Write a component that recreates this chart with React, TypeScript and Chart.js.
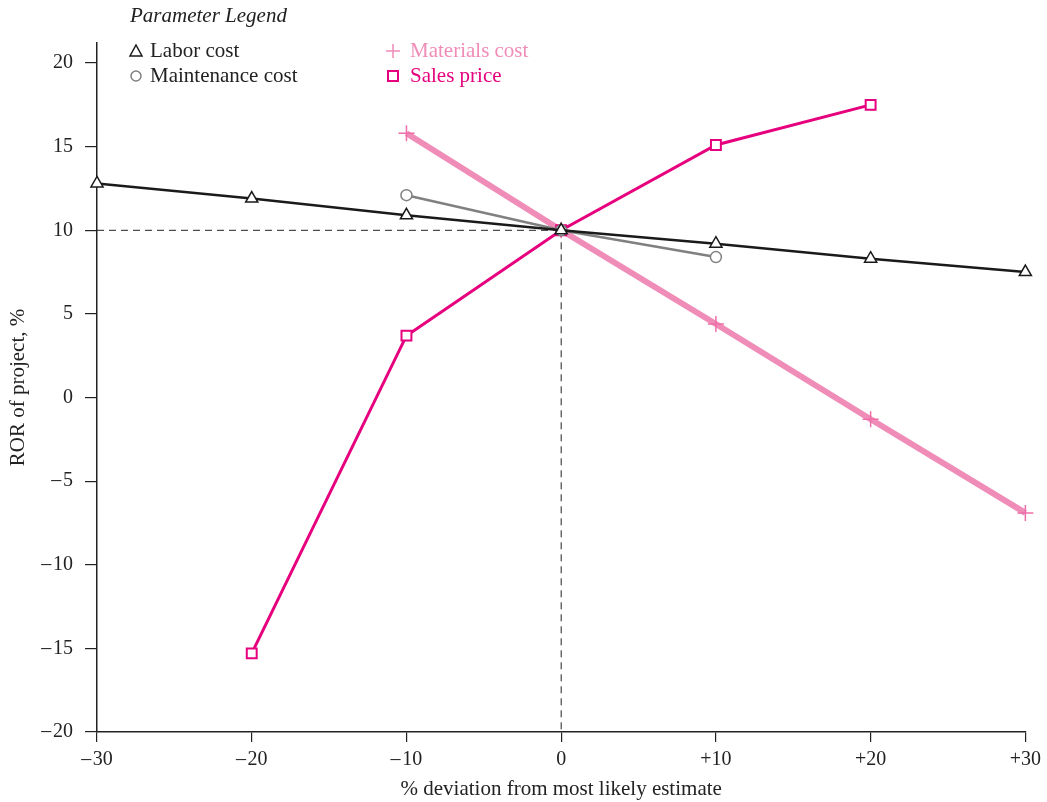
import React, { useEffect, useRef } from "react";
import { Chart, registerables } from "chart.js";

Chart.register(...registerables);

const deviations = [-30, -20, -10, 0, 10, 20, 30];
const laborX = [-30, -20, -10, 0, 10, 20, 30];
const laborY = [12.8, 11.9, 10.9, 10, 9.2, 8.3, 7.5];
const maintX = [-10, 0, 10];
const maintY = [12.1, 10, 8.4];
const materialsX = [-10, 0, 10, 20, 30];
const materialsY = [15.8, 10, 4.4, -1.3, -6.9];
const salesX = [-20, -10, 0, 10, 20];
const salesY = [-15.3, 3.7, 10, 15.1, 17.5];
const yTicks = [-20, -15, -10, -5, 0, 5, 10, 15, 20];
const baseX = 0;
const baseY = 10;

const LABOR = "#1a1a1a";
const MAINT = "#808080";
const MATERIALS = "#F08CB8";
const SALES = "#E6007E";
const FONT = "'Liberation Serif', 'DejaVu Serif', serif";

const pts = (xs: number[], ys: number[]) => xs.map((x, i) => ({ x, y: ys[i] }));
const fmt = (v: number) => (v < 0 ? "\u2013\u200A" + Math.abs(v) : String(v));

const legendPlugin = {
  id: "paramLegend",
  afterDraw(chart: any) {
    const ctx = chart.ctx as CanvasRenderingContext2D;
    ctx.save();
    ctx.textBaseline = "middle";
    ctx.textAlign = "left";
    ctx.font = `italic 21px ${FONT}`;
    ctx.fillStyle = "#222";
    ctx.fillText("Parameter Legend", 130, 16);
    ctx.font = `21px ${FONT}`;
    // Labor: triangle
    ctx.lineWidth = 1.5;
    ctx.strokeStyle = LABOR;
    ctx.beginPath();
    ctx.moveTo(136, 45);
    ctx.lineTo(142, 56);
    ctx.lineTo(130, 56);
    ctx.closePath();
    ctx.stroke();
    ctx.fillStyle = "#222";
    ctx.fillText("Labor cost", 150, 51);
    // Maintenance: circle
    ctx.strokeStyle = MAINT;
    ctx.beginPath();
    ctx.arc(136, 76, 5, 0, Math.PI * 2);
    ctx.stroke();
    ctx.fillText("Maintenance cost", 150, 76);
    // Materials: plus
    ctx.strokeStyle = MATERIALS;
    ctx.lineWidth = 1.5;
    ctx.beginPath();
    ctx.moveTo(386, 51);
    ctx.lineTo(400, 51);
    ctx.moveTo(393, 44);
    ctx.lineTo(393, 58);
    ctx.stroke();
    ctx.fillStyle = MATERIALS;
    ctx.fillText("Materials cost", 410, 51);
    // Sales: square
    ctx.strokeStyle = SALES;
    ctx.lineWidth = 2;
    ctx.strokeRect(388, 71, 10, 10);
    ctx.fillStyle = SALES;
    ctx.fillText("Sales price", 410, 76);
    ctx.restore();
  },
};

export default function App() {
  const ref = useRef<HTMLCanvasElement | null>(null);
  useEffect(() => {
    document.body.style.margin = "0";
    const canvas = ref.current!;
    const chart = new Chart(canvas, {
      type: "scatter",
      data: {
        datasets: [
          {
            label: "Labor cost",
            data: pts(laborX, laborY),
            showLine: true,
            borderColor: LABOR,
            borderWidth: 2.5,
            pointStyle: "triangle",
            pointRadius: 7,
            pointBorderWidth: 1.5,
            pointBackgroundColor: "#fff",
            pointBorderColor: LABOR,
            clip: false,
            order: 0,
          },
          {
            label: "Maintenance cost",
            data: pts(maintX, maintY),
            showLine: true,
            borderColor: MAINT,
            borderWidth: 2.5,
            pointStyle: "circle",
            pointRadius: 5.5,
            pointBorderWidth: 1.5,
            pointBackgroundColor: "#fff",
            pointBorderColor: MAINT,
            clip: false,
            order: 1,
          },
          {
            label: "Sales price",
            data: pts(salesX, salesY),
            showLine: true,
            borderColor: SALES,
            borderWidth: 3,
            pointStyle: "rect",
            pointRadius: 7,
            pointBorderWidth: 2,
            pointBackgroundColor: "#fff",
            pointBorderColor: SALES,
            clip: false,
            order: 2,
          },
          {
            label: "Materials cost",
            data: pts(materialsX, materialsY),
            showLine: true,
            borderColor: MATERIALS,
            borderWidth: 6,
            pointStyle: "cross",
            pointRadius: 8,
            pointBorderWidth: 1.5,
            pointBorderColor: "#EE6FA8",
            clip: false,
            order: 3,
          },
          {
            label: "base-h",
            data: [
              { x: deviations[0], y: baseY },
              { x: baseX, y: baseY },
            ],
            showLine: true,
            borderColor: "#222",
            borderWidth: 1,
            borderDash: [7, 5],
            pointRadius: 0,
            order: 4,
          },
          {
            label: "base-v",
            data: [
              { x: baseX, y: baseY },
              { x: baseX, y: yTicks[0] },
            ],
            showLine: true,
            borderColor: "#222",
            borderWidth: 1,
            borderDash: [7, 5],
            pointRadius: 0,
            order: 5,
          },
        ],
      },
      options: {
        animation: false,
        responsive: false,
        layout: { padding: { left: 6, top: 43, right: 21, bottom: 0 } },
        plugins: { legend: { display: false }, tooltip: { enabled: false } },
        scales: {
          x: {
            type: "linear",
            min: -30,
            max: 30,
            afterBuildTicks: (s: any) => {
              s.ticks = deviations.map((v) => ({ value: v }));
            },
            afterFit: (s: any) => {
              s.height = 70;
            },
            border: { display: true, color: "#222", width: 1.5 },
            grid: { drawOnChartArea: false, drawTicks: true, tickLength: 10, color: "#222", lineWidth: 1.2 },
            ticks: {
              padding: 6,
              color: "#222",
              font: { family: FONT, size: 20 },
              maxRotation: 0,
              callback: (v: any) => (v > 0 ? "+" + v : fmt(v)),
            },
            title: {
              display: true,
              text: "% deviation from most likely estimate",
              color: "#222",
              font: { family: FONT, size: 21 },
              padding: { top: 0, bottom: 0 },
            },
          },
          y: {
            type: "linear",
            min: -20,
            max: 21.2,
            afterBuildTicks: (s: any) => {
              s.ticks = yTicks.map((v) => ({ value: v }));
            },
            afterFit: (s: any) => {
              s.width = 91;
            },
            border: { display: true, color: "#222", width: 1.5 },
            grid: { drawOnChartArea: false, drawTicks: true, tickLength: 12, color: "#222", lineWidth: 1.2 },
            ticks: {
              padding: 12,
              color: "#222",
              font: { family: FONT, size: 20 },
              callback: (v: any) => fmt(v),
            },
            title: {
              display: true,
              text: "ROR of project, %",
              color: "#222",
              font: { family: FONT, size: 21 },
              padding: { top: 0, bottom: 0 },
            },
          },
        },
      },
      plugins: [legendPlugin],
    } as any);
    return () => chart.destroy();
  }, []);
  return (
    <div style={{ position: "absolute", left: 0, top: 0, width: 1047, height: 802 }}>
      <canvas ref={ref} width={1047} height={802} style={{ width: 1047, height: 802 }} />
    </div>
  );
}
